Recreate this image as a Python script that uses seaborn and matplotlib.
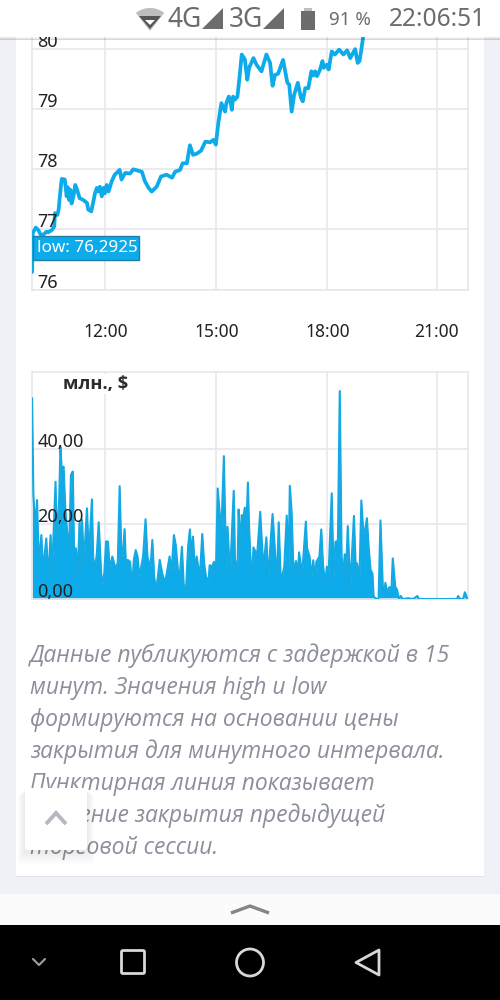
import matplotlib
matplotlib.use("Agg")
import matplotlib.pyplot as plt
from matplotlib.patches import Rectangle, FancyBboxPatch, Polygon, Circle, Wedge
import seaborn as sns

# Minutes since 10:00 and price
price_minutes = [1, 2, 7, 11, 15, 19, 24, 27, 33, 37, 38, 42, 44, 46, 49, 54, 57, 59, 61, 63, 65, 68, 71, 74, 78, 84, 90, 92, 97,
                 103, 106, 108, 111, 114, 117, 119, 122, 125, 130, 135, 143, 146, 152, 160, 165, 172, 179, 184, 190, 195, 203, 210, 219, 228,
                 233, 241, 245, 252, 257, 262, 268, 275, 282, 290, 295, 299, 303, 308, 314, 316, 320, 322, 325, 327, 330, 334, 337, 341,
                 346, 350, 353, 360, 365, 373, 381, 387, 391, 395, 400, 408, 415, 418, 422, 426, 432, 437, 440, 444, 449,
                 454, 457, 460, 463, 468, 472, 474, 479, 482, 487, 492, 499, 506, 512, 517, 525, 529, 532, 535, 538, 541]
price_values = [76.2925, 76.94, 77.03, 76.99, 76.91, 76.91, 76.96, 76.95, 76.99, 77.05, 77.27, 77.24, 77.33, 77.55, 77.84,
                77.83, 77.55, 77.70, 77.49, 77.66, 77.43, 77.55, 77.74, 77.66, 77.52, 77.49, 77.44, 77.33, 77.30,
                77.60, 77.69, 77.63, 77.71, 77.55, 77.69, 77.60, 77.74, 77.63, 77.80, 77.91, 77.99, 77.83, 77.94, 77.93, 78.00, 77.98, 77.96, 77.80, 77.69, 77.63, 77.71,
                77.88, 77.91, 77.86, 77.96, 77.99, 78.10, 78.10, 78.40, 78.24, 78.26, 78.31, 78.46, 78.45, 78.49, 78.41,
                78.77, 79.10, 78.96, 79.10, 79.21, 79.16, 78.99, 79.21, 79.16, 79.21, 79.49, 79.91, 79.83, 79.49, 79.69, 79.85, 79.74, 79.63,
                79.91, 79.77, 79.39, 79.57, 79.59, 79.82, 79.44, 79.41, 78.96, 79.24, 79.44, 79.19, 79.13, 79.35, 79.35,
                79.63, 79.56, 79.63, 79.55, 79.66, 79.80, 79.69, 79.74, 79.66, 79.96, 79.91, 79.99, 79.91, 79.98, 79.85, 80.00, 79.77, 79.80, 79.99,
                80.21, 80.33]

# Minutes since 10:00 and volume, mln $
volume_minutes = [1, 3, 5, 7, 9, 11, 13, 16, 18, 20, 24, 26, 28, 31, 33, 35, 39, 41, 45, 47, 49, 52, 55, 58, 61, 64, 67, 69,
                  72, 75, 78, 80, 82, 85, 90, 93, 98, 100, 103, 106, 109, 113, 115, 118, 121, 124, 127, 131, 134, 137, 140,
                  143, 146, 148, 151, 153, 156, 160, 163, 166, 169, 172, 175, 178, 181, 185, 188, 191, 193, 196, 199, 202,
                  205, 208, 212, 215, 218, 224, 227, 231, 234, 238, 241, 244, 247, 251, 254, 257, 259, 262, 265, 268, 271,
                  274, 277, 280, 283, 287, 289, 293, 296, 299, 302, 306, 308, 312, 316, 318, 322, 328, 330, 334, 336, 338,
                  341, 343, 346, 348, 351, 353, 356, 358, 360, 366, 371, 376, 381, 384, 388, 391, 394, 398, 401, 404, 406,
                  410, 414, 417, 419, 422, 425, 429, 432, 434, 439, 445, 447, 451, 454, 457, 460, 462, 467, 470, 473, 477,
                  479, 482, 487, 490, 493, 497, 500, 503, 506, 508, 510, 513, 517, 523, 526, 528, 532, 535, 539, 544, 547,
                  550, 553, 555, 560, 563, 566, 570, 572, 574, 577, 580, 584, 586, 590, 593, 596, 599, 602, 611, 619, 626,
                  628, 690, 692, 695, 700, 703, 707]
volume_values = [53.4, 28.1, 21.7, 21.2, 26.3, 14.5, 11.2, 17.0, 10.4, 9.5, 16.1, 9.5, 7.7, 17.0, 6.8, 14.0, 31.2, 14.9, 27.2,
                 40.5, 34.3, 35.2, 23.6, 17.5, 13.0, 33.0, 33.9, 13.0, 13.5, 6.8, 20.8, 7.2, 21.0, 9.5, 24.1, 11.3, 26.5,
                 11.3, 7.7, 12.1, 20.4, 6.8, 3.7, 6.8, 15.3, 15.3, 7.7, 11.3, 9.5, 7.7, 9.9, 30.0, 10.4, 11.3, 18.6, 9.9,
                 10.4, 9.9, 2.8, 10.4, 13.0, 11.3, 5.9, 8.6, 11.3, 21.2, 11.3, 9.5, 8.2, 15.7, 5.9, 2.4, 5.9, 10.4, 6.8,
                 5.1, 5.5, 11.3, 6.8, 17.0, 14.4, 6.8, 7.2, 13.9, 3.3, 3.7, 13.9, 18.5, 11.3, 16.6, 7.7, 11.3, 7.7, 8.6,
                 17.3, 9.5, 5.9, 4.6, 9.0, 8.6, 9.9, 5.9, 29.4, 21.2, 17.9, 38.0, 5.5, 19.2, 5.9, 28.8, 10.8, 6.4, 23.8,
                 13.5, 22.3, 21.0, 24.3, 16.6, 31.0, 18.8, 7.7, 7.0, 13.7, 11.7, 23.2, 8.0, 16.4, 4.6, 15.7, 22.6, 15.2,
                 4.2, 20.4, 6.4, 5.5, 8.6, 22.2, 8.6, 30.1, 23.0, 6.8, 10.1, 6.4, 12.4, 6.6, 20.6, 13.5, 11.3, 5.9, 10.3,
                 5.1, 9.9, 11.3, 18.5, 8.6, 4.2, 8.6, 7.0, 28.1, 5.9, 15.2, 15.5, 55.3, 11.3, 6.4, 11.9, 5.5, 19.4, 2.8,
                 22.1, 7.7, 9.5, 5.5, 26.2, 15.8, 21.5, 13.5, 7.7, 6.8, 0.6, 0.0, 0.0, 20.9, 2.4, 1.1, 4.3, 1.5, 3.1, 3.1,
                 10.8, 3.3, 2.4, 0.0, 0.8, 0.0, 0.2, 0.0, 0.8, 0.0, 0.0, 0.8, 0.0, 0.0, 1.8, 0.0]

time_ticks = [120, 300, 480, 657]
time_labels = ['12:00', '15:00', '18:00', '21:00']
price_ticks = [76, 77, 78, 79, 80]
volume_ticks = [0, 20, 40]
volume_labels = ['0,00', '20,00', '40,00']
note_lines = ['Данные публикуются с задержкой в 15',
              'минут. Значения high и low',
              'формируются на основании цены',
              'закрытия для минутного интервала.',
              'Пунктирная линия показывает',
              'значение закрытия предыдущей',
              'торговой сессии.']

BLUE = '#0dabe9'
GRID = '#e8e8ec'
PAGE = '#eff1f6'

sns.set_theme(style='white')
plt.rcParams['font.family'] = ['Noto Sans', 'DejaVu Sans']

W, H = 500, 1000
fig = plt.figure(figsize=(5, 10), dpi=100, facecolor=PAGE)


def px_axes(left, top, right, bottom, z):
    return fig.add_axes([left / W, 1 - bottom / H, (right - left) / W, (bottom - top) / H], zorder=z)


# page behind the charts
back = px_axes(0, 0, W, H, 0)
back.set_xlim(0, W)
back.set_ylim(H, 0)
back.axis('off')
back.add_patch(Rectangle((16, 30), 468, 847, fc='#dfe1e6', ec='none'))
back.add_patch(Rectangle((16, 30), 468, 846, fc='white', ec='none'))
for i, line in enumerate(note_lines):
    back.text(30, 655.5 + i * 32.1, line, fontsize=16.45, style='italic', color='#8b8f9c',
              family=['Open Sans', 'DejaVu Sans'], va='center', ha='left')


def style_axes(ax, yticks, ylabels):
    ax.set_xlim(0, 708)
    ax.set_axisbelow(True)
    ax.patch.set_alpha(0)
    ax.set_xlabel('')
    ax.set_ylabel('')
    ax.grid(True, color=GRID, linewidth=1.2)
    for s in ax.spines.values():
        s.set_color(GRID)
        s.set_linewidth(1.2)
    ax.set_yticks(yticks)
    ax.tick_params(length=0, labelleft=False)
    for v, lab in zip(yticks, ylabels):
        ax.annotate(lab, (0.0135, v), xycoords=ax.get_yaxis_transform(), xytext=(0, -1.5),
                    textcoords='offset points', fontsize=13, color='#222222',
                    ha='left', va='bottom', zorder=5)


# price chart
ax1 = px_axes(31.5, 15, 468, 289.5, 1)
sns.lineplot(x=price_minutes, y=price_values, ax=ax1, color=BLUE, linewidth=2.7, estimator=None, zorder=4)
ax1.set_ylim(76, 76 + 274.5 / 60.1)
style_axes(ax1, price_ticks, [str(v) for v in price_ticks])
ax1.set_xticks(time_ticks, labels=time_labels)
ax1.tick_params(axis='x', labelsize=12.5, labelcolor='#222222', pad=24)

# volume chart
ax2 = px_axes(31.5, 372.5, 468, 599, 1)
sns.lineplot(x=volume_minutes, y=volume_values, ax=ax2, color='#14a9e3', linewidth=1.5, estimator=None, zorder=3)
ax2.fill_between(volume_minutes, 0, volume_values, color=BLUE, linewidth=0, zorder=2)
ax2.set_ylim(0, 226.5 / 3.76)
style_axes(ax2, volume_ticks, volume_labels)
ax2.set_xticks(time_ticks, labels=[])
ax2.text(63, 384, 'млн., $', transform=back.transData, fontsize=13.2, fontweight='bold', color='#2b2b2b',
         family=['Open Sans', 'DejaVu Sans'], ha='left', va='center', zorder=6, bbox=dict(fc='white', ec='none', pad=1))

# everything on top of the charts: tooltip and phone interface
top = px_axes(0, 0, W, H, 2)
top.set_xlim(0, W)
top.set_ylim(H, 0)
top.axis('off')

top.add_patch(Rectangle((32.5, 236), 106, 24, fc=BLUE, ec='#1f7fa8', lw=1))
top.text(37, 248.5, 'low: 76,2925', color='white', fontsize=12.3, va='center', ha='left')

# status bar
for k, a in enumerate([0.03, 0.05, 0.08]):
    top.add_patch(Rectangle((0, 37 + k), W, 3 - k, fc='black', alpha=a, ec='none'))
top.add_patch(Rectangle((0, 0), W, 37, fc='white', ec='none'))
GRAY = '#6c6c6c'
top.add_patch(Wedge((150, 31), 23, 232, 308, fc='#bdbdbd', ec='none'))
top.add_patch(Polygon([(139, 16), (161, 16), (150, 29)], fc='#555555', ec='none'))
top.add_patch(Polygon([(145, 20), (155, 20), (150, 25)], fc='white', ec='none'))
top.text(167, 20, '4G', fontsize=19, color=GRAY, va='center', ha='left', stretch='condensed')
top.add_patch(Polygon([(202, 29), (223, 8), (223, 29)], fc=GRAY, ec='none'))
top.text(229, 20, '3G', fontsize=19, color=GRAY, va='center', ha='left')
top.add_patch(Polygon([(263, 29), (284, 8), (284, 29)], fc=GRAY, ec='none'))
top.add_patch(Rectangle((301, 11), 14, 19, fc=GRAY, ec='none'))
top.add_patch(Rectangle((304, 8), 8, 3, fc='#bdbdbd', ec='none'))
top.text(329, 20, '91 %', fontsize=13.5, color=GRAY, va='center', ha='left')
top.text(389, 20, '22:06:51', fontsize=17.7, color=GRAY, va='center', ha='left', fontweight='medium')

# floating button
for k in range(8):
    top.add_patch(FancyBboxPatch((25 - k, 788 + k), 62 + 2 * k, 62 + k, boxstyle='round,pad=0,rounding_size=4',
                                 fc='black', ec='none', alpha=0.012))
top.add_patch(FancyBboxPatch((25, 788), 62, 62, boxstyle='round,pad=0,rounding_size=3', fc='white', ec='none'))
top.plot([46, 56, 66], [824, 813, 824], color='#b5b8c2', lw=2.8, solid_capstyle='butt', solid_joinstyle='miter')

# bottom sheet and navigation bar
top.add_patch(Rectangle((0, 894), W, 31, fc='#fbfbfb', ec='none'))
top.plot([231, 250, 269], [913, 906, 913], color='#858585', lw=2.4, solid_capstyle='butt')
top.add_patch(Rectangle((0, 925), W, 75, fc='black', ec='none'))
NAV = '#d8d8d8'
top.plot([33, 39, 45], [959, 965, 959], color='#999999', lw=1.6)
top.add_patch(FancyBboxPatch((121.5, 950.5), 23, 23, boxstyle='round,pad=0,rounding_size=1.5', fc='none', ec=NAV, lw=2))
top.add_patch(Circle((250, 962.5), 13.5, fc='none', ec=NAV, lw=2))
top.add_patch(Polygon([(379, 950), (356, 962.5), (379, 975)], closed=True, fc='none', ec=NAV, lw=2, joinstyle='round'))

fig.savefig('out.png', dpi=100, facecolor=fig.get_facecolor())
print('ok')
